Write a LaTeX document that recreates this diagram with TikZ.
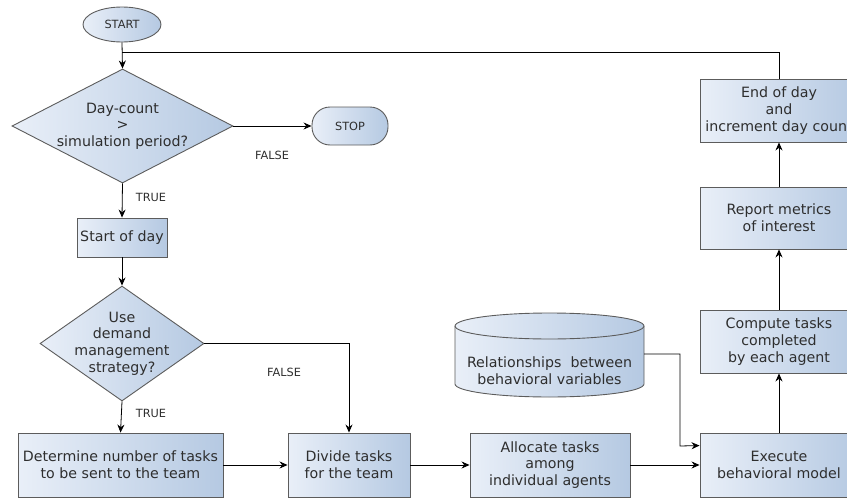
\documentclass[tikz,border=0pt]{standalone}
\usepackage{fontspec}
\setmainfont{DejaVu Sans}
\usetikzlibrary{shapes.geometric,arrows.meta,calc}

\definecolor{boxL}{HTML}{E9EFF8}
\definecolor{boxR}{HTML}{B5C9E2}
\definecolor{edgec}{HTML}{5C5C5C}
\definecolor{txtc}{HTML}{2E2E2E}

\tikzset{
  shadebox/.style={left color=boxL, right color=boxR, draw=edgec, line width=0.9pt},
  maintext/.style={font=\fontsize{14.2}{16.6}\selectfont, text=txtc, align=center},
  procbox/.style={shadebox, rectangle, inner sep=0pt, maintext},
  decbox/.style={shadebox, diamond, inner sep=0pt},
  termbox/.style={shadebox, inner sep=0pt, font=\fontsize{11.3}{13}\selectfont, text=txtc},
  smalllabel/.style={font=\fontsize{11.3}{13}\selectfont, text=txtc},
  conn/.style={draw=black, line width=0.8pt},
  arr/.style={conn, -{Stealth[length=8pt,width=7pt]}}
}

\begin{document}
\begin{tikzpicture}[x=1pt,y=-1pt]
\useasboundingbox (0,0) rectangle (847,498);
\clip (0,0) rectangle (847,498);

% terminals
\node[termbox, ellipse, minimum width=78pt, minimum height=35pt] (start) at (122,24.5) {START};
\node[termbox, rectangle, rounded corners=18pt, minimum width=76pt, minimum height=38pt] (stop) at (350,126) {STOP};

% decision 1
\node[decbox, minimum width=221pt, minimum height=114pt] (d1) at (122.5,126) {};
\node[maintext] (d1t) at (d1.center) {Day-count\\>\\simulation period?};

% start of day
\node[procbox, minimum width=90pt, minimum height=39pt] (sod) at (122,237.5) {Start of day};

% decision 2
\node[decbox, minimum width=164pt, minimum height=115pt] (d2) at (122,343.5) {};
\node[maintext] (d2t) at (d2.center) {Use\\demand\\management\\strategy?};

% bottom row
\node[procbox, minimum width=205pt, minimum height=64pt] (det) at (120.5,465) {Determine number of tasks\\to be sent to the team};
\node[procbox, minimum width=122pt, minimum height=64pt] (div) at (349,465) {Divide tasks\\for the team};
\node[procbox, minimum width=160pt, minimum height=64pt] (alo) at (550,465) {Allocate tasks\\among\\individual agents};
\node[procbox, minimum width=158pt, minimum height=64pt] (exe) at (779,465) {Execute\\behavioral model};

% right column
\node[procbox, minimum width=158pt, minimum height=63pt] (cmp) at (779,341.5) {Compute tasks\\completed\\by each agent};
\node[procbox, minimum width=158pt, minimum height=62pt] (rep) at (779,218) {Report metrics\\of interest};
\node[procbox, minimum width=158pt, minimum height=63pt] (eod) at (779,110.5) {End of day\\and\\increment day count};

% cylinder (data store)
\path[shadebox] (455,326) -- (455,384) arc[start angle=180, end angle=360, x radius=94.5pt, y radius=13pt] -- (644,326) arc[start angle=0, end angle=180, x radius=94.5pt, y radius=13pt] -- cycle;
\draw[draw=edgec, line width=0.9pt] (455,326) arc[start angle=180, end angle=360, x radius=94.5pt, y radius=13pt];
\node[maintext] (cyl) at (549.5,371) {Relationships\ \ between\\behavioral variables};
\coordinate (cylr) at (644,354);

% junction of the loop
\coordinate (j) at (122,52);

% connectors
\draw[arr] (start.south) -- (d1.north);
\draw[conn] (eod.north) |- (j);
\draw[arr] (d1.east) -- (stop.west);
\node[smalllabel] (lf1) at (272,155) {FALSE};
\draw[arr] (d1.south) -- (sod.north);
\node[smalllabel] (lt1) at (151,197) {TRUE};
\draw[arr] (sod.south) -- (d2.north);
\draw[arr] (d2.east) -| (div.north);
\node[smalllabel] (lf2) at (284,372) {FALSE};
\draw[arr] (d2.south) -- (det.north);
\node[smalllabel] (lt2) at (151,413) {TRUE};
\draw[arr] (det.east) -- (div.west);
\draw[arr] (div.east) -- (alo.west);
\draw[arr] (alo.east) -- (exe.west);
\draw[arr] (cylr) -- (680,354) -- (680,446) -- ([yshift=-13pt]exe.north west);
\draw[arr] (exe.north) -- (cmp.south);
\draw[arr] (cmp.north) -- (rep.south);
\draw[arr] (rep.north) -- (eod.south);
\end{tikzpicture}
\end{document}
